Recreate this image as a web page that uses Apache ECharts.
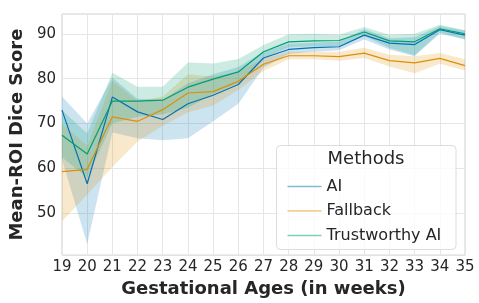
<!DOCTYPE html>
<html>
<head>
<meta charset="utf-8">
<script src="https://cdn.jsdelivr.net/npm/echarts@6/dist/echarts.min.js"></script>
<style>html,body{margin:0;padding:0;background:#fff}#c{width:479px;height:303px}</style>
</head>
<body>
<div id="c"></div>
<script>
const weeks = ['19','20','21','22','23','24','25','26','27','28','29','30','31','32','33','34','35'];
const yTicks = [50, 60, 70, 80, 90];

const aiMean  = [73.0, 56.6, 75.9, 72.6, 70.9, 74.4, 76.3, 78.7, 84.6, 86.5, 86.9, 87.1, 89.7, 87.9, 87.6, 90.9, 89.7];
const aiLow   = [62.0, 43.2, 68.0, 66.7, 66.3, 66.7, 70.5, 74.4, 82.5, 85.5, 86.0, 86.3, 88.7, 86.5, 85.0, 90.0, 88.7];
const aiHigh  = [76.0, 70.0, 80.2, 75.5, 75.3, 79.0, 81.0, 82.6, 86.0, 87.8, 88.0, 88.3, 91.0, 89.0, 89.2, 91.7, 90.7];

const fbMean  = [59.3, 59.8, 71.5, 70.5, 73.1, 76.8, 77.1, 79.4, 83.2, 85.1, 85.1, 84.9, 85.7, 84.0, 83.5, 84.5, 82.9];
const fbLow   = [48.2, 54.2, 60.3, 66.0, 69.5, 72.5, 74.0, 77.5, 81.7, 84.3, 84.3, 84.0, 84.6, 82.7, 81.2, 83.3, 81.8];
const fbHigh  = [70.0, 65.0, 79.5, 75.0, 76.0, 81.0, 80.5, 81.5, 84.5, 86.0, 86.0, 86.0, 86.9, 85.3, 85.0, 85.7, 84.3];

const taiMean = [67.4, 63.2, 75.0, 75.0, 75.2, 78.1, 79.9, 81.5, 86.0, 88.2, 88.4, 88.5, 90.4, 88.4, 88.2, 91.1, 90.0];
const taiLow  = [62.5, 58.0, 70.0, 71.5, 72.0, 73.5, 76.5, 79.0, 84.5, 87.0, 87.2, 87.3, 89.5, 86.8, 85.2, 90.3, 88.8];
const taiHigh = [73.0, 67.8, 81.3, 78.2, 78.2, 83.6, 83.4, 84.4, 87.5, 89.9, 90.0, 89.8, 91.5, 89.8, 90.0, 92.0, 90.8];

const names = ['AI', 'Fallback', 'Trustworthy AI'];
const colors = ['#0173b2', '#de8f05', '#029e73'];
const fills = ['rgba(1,115,178,0.2)', 'rgba(222,143,5,0.2)', 'rgba(2,158,115,0.2)'];
const legendColors = ['#80b9d8', '#eec782', '#80cfb9'];

const means = [aiMean, fbMean, taiMean];
const lows = [aiLow, fbLow, taiLow];
const highs = [aiHigh, fbHigh, taiHigh];

const series = [];
for (let i = 0; i < 3; i++) {
  series.push({
    type: 'line', stack: 'band' + i, data: lows[i], symbol: 'none', silent: true,
    lineStyle: { opacity: 0 }, z: 1
  });
  series.push({
    type: 'line', stack: 'band' + i, data: highs[i].map((h, k) => +(h - lows[i][k]).toFixed(2)),
    symbol: 'none', silent: true, lineStyle: { opacity: 0 },
    areaStyle: { color: fills[i], opacity: 1 }, z: 1
  });
}
for (let i = 0; i < 3; i++) {
  series.push({
    name: names[i], type: 'line', data: means[i], symbol: 'none',
    lineStyle: { color: colors[i], width: 1.2 }, itemStyle: { color: colors[i] }, z: 3
  });
}

const chart = echarts.init(document.getElementById('c'), null, { renderer: 'canvas' });
chart.setOption({
  animation: false,
  backgroundColor: '#ffffff',
  grid: { left: 49, right: 14, top: 14, bottom: 45, show: true, borderColor: '#d0d0d0', borderWidth: 1, backgroundColor: 'transparent' },
  xAxis: {
    type: 'category', data: weeks, boundaryGap: false,
    name: 'Gestational Ages (in weeks)', nameLocation: 'middle', nameGap: 23,
    nameTextStyle: { fontFamily: 'DejaVu Sans', fontWeight: 'bold', fontSize: 18, color: '#262626' },
    axisLine: { show: false }, axisTick: { show: false },
    axisLabel: { fontFamily: 'DejaVu Sans', fontSize: 15, color: '#262626', margin: 5, interval: 0 },
    splitLine: { show: true, interval: 0, lineStyle: { color: '#e6e6e6', width: 1 } }
  },
  yAxis: {
    type: 'value', min: 40.7, max: 94.4,
    name: 'Mean-ROI Dice Score', nameLocation: 'middle', nameGap: 32,
    nameTextStyle: { fontFamily: 'DejaVu Sans', fontWeight: 'bold', fontSize: 18, color: '#262626' },
    axisLine: { show: false },
    axisTick: { show: false, customValues: yTicks },
    axisLabel: { fontFamily: 'DejaVu Sans', fontSize: 15, color: '#262626', margin: 6, customValues: yTicks },
    splitLine: { show: true, lineStyle: { color: '#e6e6e6', width: 1 } }
  },
  legend: {
    orient: 'vertical', left: 282.5, top: 172.5, z: 100,
    icon: 'rect', itemWidth: 34, itemHeight: 1.5, itemGap: 6.5, itemTextGap: 12,
    textStyle: { fontFamily: 'DejaVu Sans', fontSize: 16, color: '#262626', lineHeight: 18 },
    data: names.map((n, i) => ({ name: n, itemStyle: { color: legendColors[i] } }))
  },
  graphic: [
    { type: 'rect', z: 90, shape: { x: 276.5, y: 145.5, width: 179.5, height: 104, r: 4 },
      style: { fill: 'rgba(255,255,255,0.8)', stroke: '#dcdcdc', lineWidth: 1 } },
    { type: 'text', z: 100, x: 366, y: 159.5,
      style: { text: 'Methods', fontFamily: 'DejaVu Sans', fontSize: 18, fill: '#262626', align: 'center', verticalAlign: 'middle' } }
  ],
  series: series
});
</script>
</body>
</html>
